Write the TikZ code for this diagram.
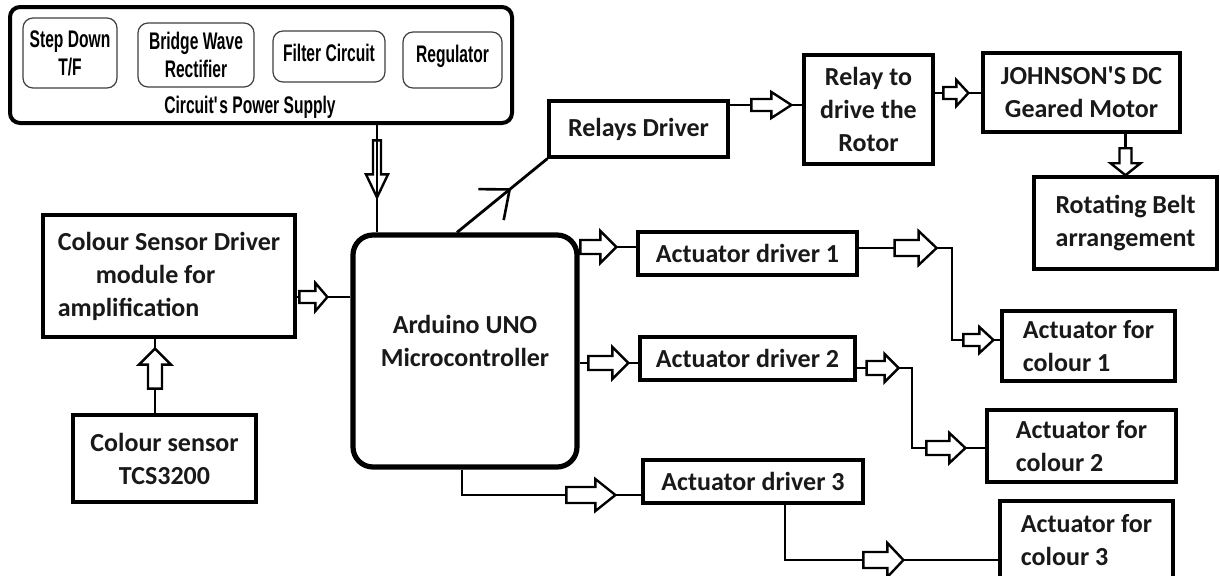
\documentclass[tikz,border=0pt]{standalone}
\usepackage{fontspec}
\setmainfont{Carlito}
\newfontfamily\condfont{Liberation Sans}[FakeStretch=0.65]
\usetikzlibrary{arrows.meta,decorations.markings}
\newcommand{\harrowshape}[5]{\draw[line width=1.2pt,fill=#5,line join=miter] (0,0) -- (-#2,#3) -- (-#2,#4) -- (-#1,#4) -- (-#1,-#4) -- (-#2,-#4) -- (-#2,-#3) -- cycle;}
\tikzset{
  ha/.style n args={6}{postaction={decorate,decoration={markings,mark=at position #1 with {\harrowshape{#2}{#3}{#4}{#5}{#6}}}}},
  sz/.style 2 args={minimum width=#1*0.5pt, minimum height=#2*0.5pt},
  box/.style={draw, line width=1.6pt, font=\fontsize{13}{16.5}\selectfont\bfseries, align=center, inner sep=0pt, text=black!90},
  ibox/.style={draw=black!75, line width=0.6pt, rounded corners=5pt, font=\condfont\bfseries\fontsize{12}{14}\selectfont, align=center, inner sep=0pt},
  conn/.style={line width=1.4pt},
}
\begin{document}
\begin{tikzpicture}[x=0.5pt,y=-0.5pt]
\useasboundingbox (0,0) rectangle (1220,575);
\fill[white] (0,0) rectangle (1220,575);
% power supply
\node[draw, line width=2pt, rounded corners=5pt, sz={502}{116}] (ps) at (261,65) {};
\node[ibox, sz={94}{70}] (sd) at (70,53) {Step Down\\T/F};
\node[ibox, sz={116}{64}] (bw) at (196,55) {Bridge Wave\\Rectifier};
\node[ibox, sz={112}{51}, text depth=4pt] (fc) at (329,56.5) {Filter Circuit};
\node[ibox, sz={99}{56}, text depth=6pt] (rg) at (452.5,60) {Regulator};
\node[font=\condfont\bfseries\fontsize{12}{14}\selectfont, inner sep=0pt] (psl) at (250,107) {Circuit\textquotesingle s Power Supply};
% main blocks
\node[box, line width=2.6pt, rounded corners=10pt, sz={224}{232}, text depth=10pt] (ard) at (465,351) {Arduino UNO\\Microcontroller};
\node[box, sz={252}{122}, align=left] (cd) at (169,276) {Colour Sensor Driver\\\hspace*{19pt}module for\\amplification};
\node[box, sz={183}{87}] (cs) at (164.5,458.5) {Colour sensor\\TCS3200};
\node[box, sz={179}{56}] (rd) at (638.5,129) {Relays Driver};
\node[box, sz={129}{109}] (rl) at (868.5,109.5) {Relay to\\drive the\\Rotor};
\node[box, sz={197}{79}] (jm) at (1081.5,92.5) {JOHNSON\textquotesingle S DC\\Geared Motor};
\node[box, sz={183}{92}] (rb) at (1125.5,223) {Rotating Belt\\arrangement};
\node[box, sz={219}{43}] (ad1) at (747.5,253.5) {Actuator driver 1};
\node[box, sz={215}{43}] (ad2) at (747.5,358.5) {Actuator driver 2};
\node[box, sz={220}{43}] (ad3) at (753,481.5) {Actuator driver 3};
\node[box, sz={173}{70}, align=left] (ac1) at (1088.5,346) {Actuator for\\colour 1};
\node[box, sz={189}{72}, align=left] (ac2) at (1081.5,446) {Actuator for\\colour 2};
\node[box, sz={173}{78}, align=left] (ac3) at (1086.5,540) {Actuator for\\colour 3};
% connectors
\draw[conn, ha={-17.5pt}{57}{23}{11}{4}{none}] (ps.south -| 377,0) -- (ard.north -| 377,0);
\draw[conn, ha={-11.5pt}{28}{12}{14}{6}{white}] (cd.east |- 0,297) -- (ard.west |- 0,297);
\draw[conn, ha={-5pt}{40}{16}{16}{7}{white}] (cs.north -| 155,0) -- (cd.south -| 155,0);
\draw[conn, postaction={decorate,decoration={markings,mark=at position 0.6 with {\arrow[line width=1.3pt]{Straight Barb[length=12pt,width=20pt]}}}}] (ard.north -| 457,0) -- (rd.south west);
\draw[conn, ha={-5.5pt}{40}{20}{13}{6}{white}] (rd.east |- 0,105) -- (rl.west |- 0,105);
\draw[conn, ha={-6.5pt}{25}{12}{13}{6}{white}] (rl.east |- 0,93) -- (jm.west |- 0,93);
\draw[conn, ha={-0.1pt}{27}{12}{15}{6}{white}] (jm.south -| rb.north) -- (rb.north);
\draw[conn, ha={-10pt}{36}{16}{16}{7}{white}] (ard.east |- 0,247) -- (ad1.west |- 0,247);
\draw[conn, ha={-5pt}{40}{16}{16}{7}{white}] (ard.east |- 0,363) -- (ad2.west |- 0,363);
\draw[conn, ha={-13pt}{49}{20}{16}{8}{white}] (ard.south -| 462,0) |- (ad3.west |- 0,495);
\draw[conn, ha={39pt}{42}{18}{17}{8}{white}, ha={-3.5pt}{30}{14}{13}{6}{white}] (ad1.east |- 0,248) -| (952,340) -- (ac1.west |- 0,340);
\draw[conn, ha={21pt}{32}{14}{14}{7}{white}, ha={-10pt}{39}{16}{15}{7}{white}] (ad2.east |- 0,368) -| (912,448) -- (ac2.west |- 0,448);
\draw[conn, ha={-47.5pt}{40}{16}{17}{8}{white}] (ad3.south -| 785,0) |- (ac3.west |- 0,560);
\end{tikzpicture}
\end{document}
